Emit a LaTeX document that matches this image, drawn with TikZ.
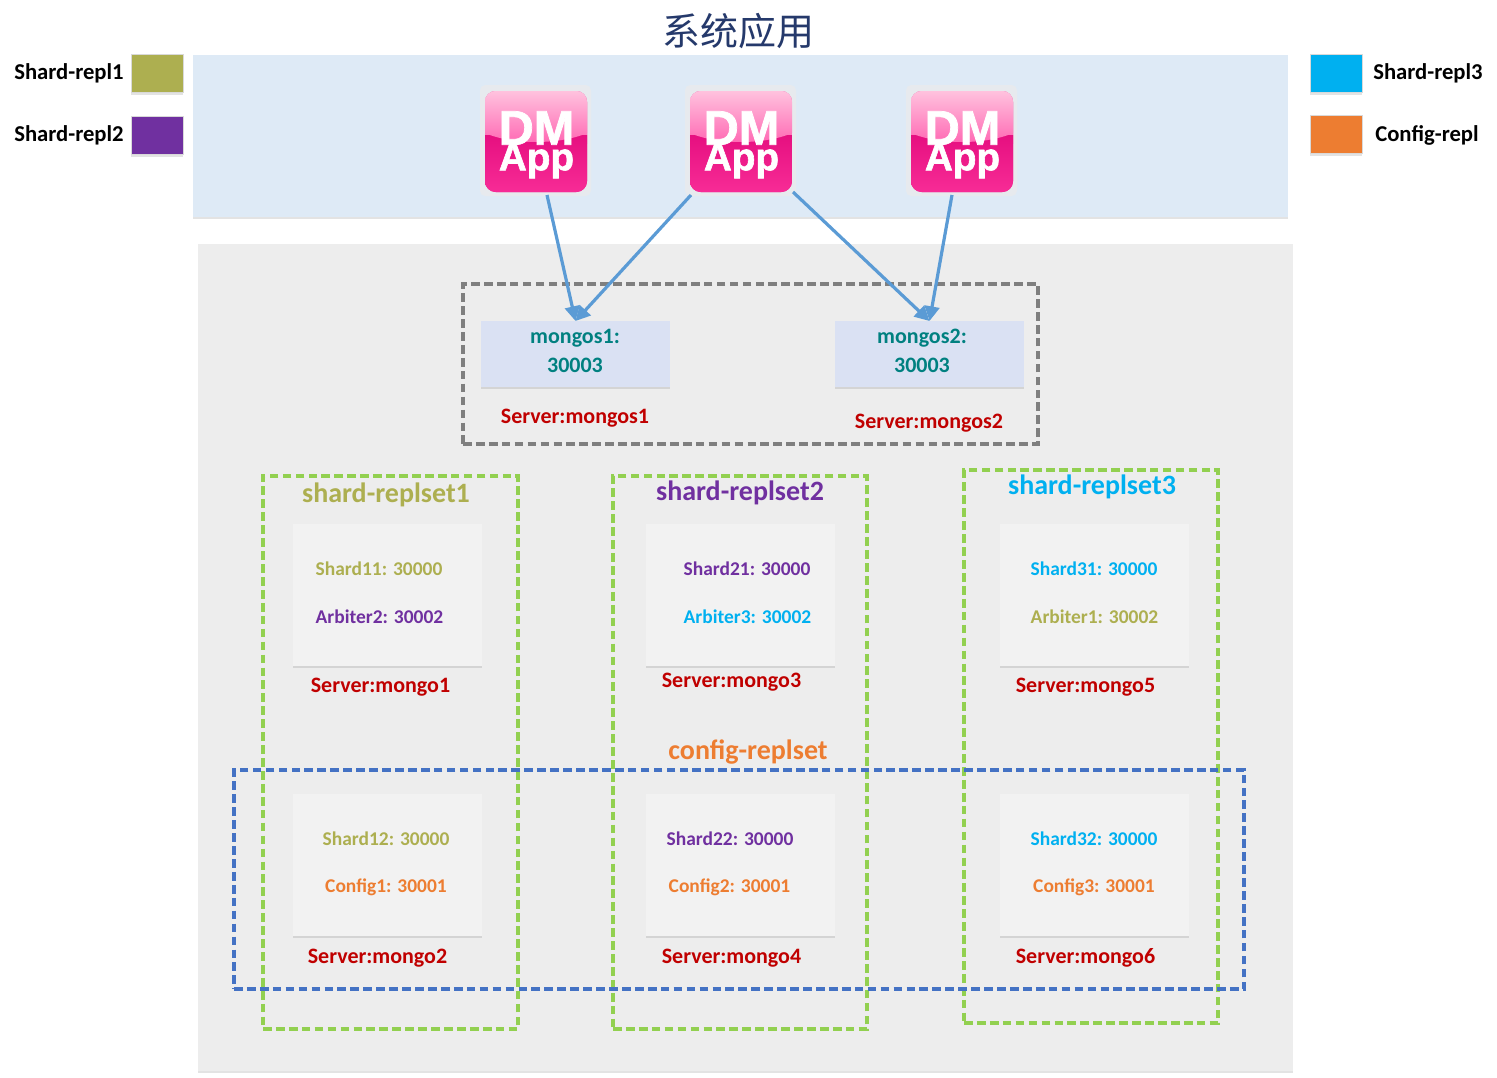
\documentclass[tikz,border=0pt]{standalone}
\usepackage{fontspec}
\setmainfont{Carlito}
\newfontfamily\cjk{Noto Sans CJK SC}
\newfontfamily\appfont[BoldFeatures={FakeBold=1.5}]{Liberation Sans}
\usetikzlibrary{shadows,arrows.meta}
\definecolor{olivec}{HTML}{ADAF50}
\definecolor{purplec}{HTML}{7030A0}
\definecolor{cyanc}{HTML}{00B0F0}
\definecolor{orangec}{HTML}{ED7D31}
\definecolor{tealc}{HTML}{008080}
\definecolor{redc}{HTML}{C00000}
\definecolor{panelblue}{HTML}{DEEAF6}
\definecolor{panelgray}{HTML}{EDEDED}
\definecolor{boxgray}{HTML}{F2F2F2}
\definecolor{mongosbox}{HTML}{DAE1F3}
\definecolor{arrowc}{HTML}{5B9BD5}
\definecolor{greenc}{HTML}{92D050}
\definecolor{bluec}{HTML}{4472C4}
\definecolor{grayc}{HTML}{7F7F7F}
\definecolor{titlec}{HTML}{25396B}
\newcommand{\fs}[1]{\fontsize{#1}{#1}\selectfont}
\tikzset{
  softshadow/.style={drop shadow={shadow xshift=0pt,shadow yshift=-1.5pt,opacity=.18,fill=black!60}},
  panel/.style={anchor=north west,inner sep=0pt,outer sep=0pt,softshadow},
  serverbox/.style={panel,fill=boxgray,minimum width=141.75pt,minimum height=106.5pt},
  swatch/.style={panel,draw=black!15,line width=.7pt,minimum width=39pt,minimum height=29pt},
  dashbox/.style={anchor=north west,inner sep=0pt,outer sep=0pt,draw,dash pattern=on 6.5pt off 3.2pt,line width=2.4pt},
  legendtext/.style={font=\bfseries\fs{17},text=black,inner sep=0pt},
  nodetext/.style={font=\bfseries\fs{14.6},inner sep=0pt},
  servertext/.style={font=\bfseries\fs{16.5},text=redc,inner sep=0pt},
  settext/.style={font=\bfseries\fs{21},inner sep=0pt},
  mongostext/.style={font=\bfseries\fs{16.5},text=tealc,inner sep=0pt,align=center},
  link/.style={draw=arrowc,line width=2.4pt,-{Triangle[length=11pt,width=11pt]},shorten >=0pt},
}
\newcommand{\appicon}[3]{%
  \node[inner sep=0pt,outer sep=0pt,minimum size=83.25pt,anchor=north west,fill=white!92!black!70!panelblue,rounded corners=4pt] (#1) at (#2,#3) {};
  \begin{scope}[shift={(#2,#3)}]
    \begin{scope}
      \clip[rounded corners=8pt] (5,6) rectangle (107,107);
      \fill[fill=none,bottom color=white!0!pink,top color=pink] (5,6) rectangle (107,107);
      \shade[top color=appl,bottom color=appm] (5,6) rectangle (107,58);
      \shade[top color=appd,bottom color=appe] (5,50) rectangle (107,107);
      \shade[top color=appl,bottom color=appm] (5,6) -- (107,6) -- (107,48) .. controls (80,60) and (32,60) .. (5,48) -- cycle;
    \end{scope}
    \node[inner sep=0pt,text=white,font=\appfont\bfseries\fs{36.5}] (#1dm) at (56.5,43) {DM};
    \node[inner sep=0pt,text=white,font=\appfont\bfseries\fs{29}] (#1txt) at (56.5,76) {App};
  \end{scope}}
\definecolor{appl}{HTML}{FFC2DE}
\definecolor{appm}{HTML}{FF66B2}
\definecolor{appd}{HTML}{E60F80}
\definecolor{appe}{HTML}{F72C96}
\colorlet{pink}{appd}
\begin{document}
\begin{tikzpicture}[x=0.75pt,y=-0.75pt]
\useasboundingbox (0,0) rectangle (1497,1078);
% panels
\node[panel,fill=panelblue,minimum width=821.25pt,minimum height=121.5pt] (top) at (193,55) {};
\node[panel,fill=panelgray,minimum width=821.25pt,minimum height=620.25pt] (bottom) at (198,244) {};
\node[font=\cjk\fs{28.5},text=titlec,inner sep=0pt] (title) at (738,31) {系统应用};
% legend
\node[swatch,fill=olivec] (sw1) at (131,54) {};
\node[swatch,fill=purplec] (sw2) at (131,116) {};
\node[swatch,fill=cyanc] (sw3) at (1310,54) {};
\node[swatch,fill=orangec] (sw4) at (1310,115) {};
\node[legendtext] (lg1) at (69,73) {Shard-repl1};
\node[legendtext] (lg2) at (69,135) {Shard-repl2};
\node[legendtext] (lg3) at (1428,73) {Shard-repl3};
\node[legendtext] (lg4) at (1427,135) {Config-repl};
% apps
\appicon{app1}{480}{85}
\appicon{app2}{685}{85}
\appicon{app3}{906}{85}
% mongos
\node[panel,fill=mongosbox,minimum width=141.75pt,minimum height=49.5pt] (m1) at (481,321) {};
\node[panel,fill=mongosbox,minimum width=141.75pt,minimum height=49.5pt] (m2) at (835,321) {};
\node[mongostext] (m1a) at (575,338) {mongos1:};
\node[mongostext] (m1b) at (575,365) {30003};
\node[mongostext] (m2a) at (922,338) {mongos2:};
\node[mongostext] (m2b) at (922,365) {30003};
\node[servertext] (s1) at (575,418) {Server:mongos1};
\node[servertext] (s2) at (929,423) {Server:mongos2};
\node[dashbox,draw=grayc,minimum width=431.25pt,minimum height=120pt] (gbox) at (463,284) {};
% connectors
\coordinate (a1) at (547,195);
\coordinate (a2) at (691,195);
\coordinate (a3) at (793,192);
\coordinate (a4) at (952,195);
\draw[link] (a1) -- (m1.north);
\draw[link] (a2) -- (m1.north);
\draw[link] (a3) -- (m2.north);
\draw[link] (a4) -- (m2.north);
% server boxes
\node[serverbox] (b1) at (293,524) {};
\node[serverbox] (b3) at (646,524) {};
\node[serverbox] (b5) at (1000,524) {};
\node[serverbox] (b2) at (293,794) {};
\node[serverbox] (b4) at (646,794) {};
\node[serverbox] (b6) at (1000,794) {};
% replica-set frames
\node[dashbox,draw=greenc,minimum width=191.25pt,minimum height=414.75pt] (r1) at (263,476) {};
\node[dashbox,draw=greenc,minimum width=190.5pt,minimum height=414.75pt] (r2) at (613,476) {};
\node[dashbox,draw=greenc,minimum width=190.5pt,minimum height=414.75pt] (r3) at (964,470) {};
\node[dashbox,draw=bluec,minimum width=757.5pt,minimum height=164.25pt] (cfg) at (234,770) {};
% set labels
\node[settext,text=olivec] (t1) at (386,495) {shard-replset1};
\node[settext,text=purplec] (t2) at (740,493) {shard-replset2};
\node[settext,text=cyanc] (t3) at (1092,487) {shard-replset3};
\node[settext,text=orangec] (t4) at (748,752) {config-replset};
% server contents
\node[nodetext,text=olivec] (n11) at (379,569) {Shard11: 30000};
\node[nodetext,text=purplec] (n12) at (379.5,617) {Arbiter2: 30002};
\node[nodetext,text=purplec] (n21) at (747,569) {Shard21: 30000};
\node[nodetext,text=cyanc] (n22) at (747.5,617) {Arbiter3: 30002};
\node[nodetext,text=cyanc] (n31) at (1094,569) {Shard31: 30000};
\node[nodetext,text=olivec] (n32) at (1094.5,617) {Arbiter1: 30002};
\node[nodetext,text=olivec] (n41) at (386,839) {Shard12: 30000};
\node[nodetext,text=orangec] (n42) at (386,887) {Config1: 30001};
\node[nodetext,text=purplec] (n51) at (730,839) {Shard22: 30000};
\node[nodetext,text=orangec] (n52) at (729.5,887) {Config2: 30001};
\node[nodetext,text=cyanc] (n61) at (1094,839) {Shard32: 30000};
\node[nodetext,text=orangec] (n62) at (1094,887) {Config3: 30001};
\node[servertext] (l1) at (380.5,687) {Server:mongo1};
\node[servertext] (l3) at (731.5,682) {Server:mongo3};
\node[servertext] (l5) at (1085.5,687) {Server:mongo5};
\node[servertext] (l2) at (377.5,958) {Server:mongo2};
\node[servertext] (l4) at (731.5,958) {Server:mongo4};
\node[servertext] (l6) at (1085.5,958) {Server:mongo6};
\end{tikzpicture}
\end{document}
